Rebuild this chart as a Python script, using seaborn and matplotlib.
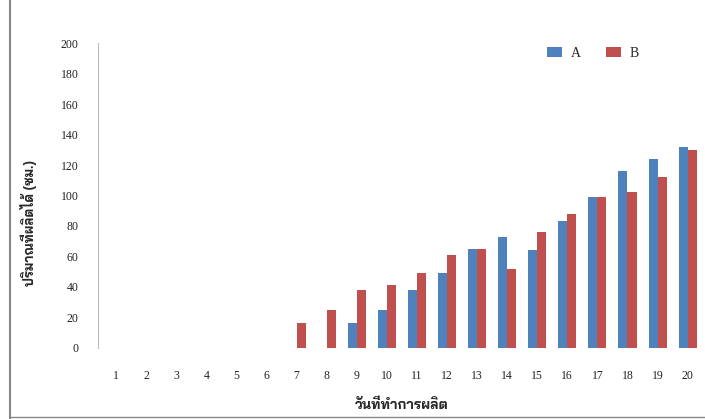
import matplotlib.pyplot as plt
import pandas as pd
import seaborn as sns
from matplotlib.lines import Line2D

days = list(range(1, 21))
series_a = [0, 0, 0, 0, 0, 0, 0, 0, 16, 25, 38, 49, 65, 73, 64, 83, 99, 116, 124, 132]
series_b = [0, 0, 0, 0, 0, 0, 16, 25, 38, 41, 49, 61, 65, 52, 76, 88, 99, 102, 112, 130]
y_ticks = [0, 20, 40, 60, 80, 100, 120, 140, 160, 180, 200]

df = pd.DataFrame({
    "day": days * 2,
    "value": series_a + series_b,
    "group": ["A"] * len(days) + ["B"] * len(days),
})

sns.set_style("white")
plt.rcParams["font.family"] = ["Liberation Serif", "DejaVu Sans"]
thai = ["Bai Jamjuree", "DejaVu Sans"]

fig = plt.figure(figsize=(7.05, 4.19), dpi=100)
ax = fig.add_axes([0.139, 0.17, 0.862, 0.727])

sns.barplot(data=df, x="day", y="value", hue="group",
            palette=["#4F81BD", "#C0504D"], width=0.6, saturation=1,
            edgecolor="none", ax=ax)

ax.set_ylim(0, 200)
ax.set_yticks(y_ticks)
ax.set_xlim(-0.6, 19.6)
ax.tick_params(axis="both", length=0, labelsize=8.5, colors="#222222")
ax.tick_params(axis="x", pad=16)
ax.tick_params(axis="y", pad=14)

for side in ["top", "right", "bottom"]:
    ax.spines[side].set_visible(False)
ax.spines["left"].set_color("#BBBBBB")
ax.spines["left"].set_linewidth(0.8)

ax.set_xlabel("วันที่ทำการผลิต", family=thai, fontsize=10, fontweight="bold")
ax.xaxis.set_label_coords(0.5, -0.165)
ax.set_ylabel("ปริมาณที่ผลิตได้ (ซม.)", family=thai, fontsize=9.5, fontweight="bold")
ax.yaxis.set_label_coords(-0.1, 0.41)

ax.legend(loc="upper right", bbox_to_anchor=(0.91, 1.03), ncol=2, frameon=False,
          fontsize=10, handlelength=1.1, handleheight=0.8, handletextpad=0.6,
          columnspacing=1.8)

# document frame lines
fig.add_artist(Line2D([0.014, 0.014], [0.0, 1.0], color="#888888", lw=1.5))
fig.add_artist(Line2D([0.014, 1.0], [0.004, 0.004], color="#888888", lw=1.0))

plt.savefig("out.png", dpi=100)
plt.close()
